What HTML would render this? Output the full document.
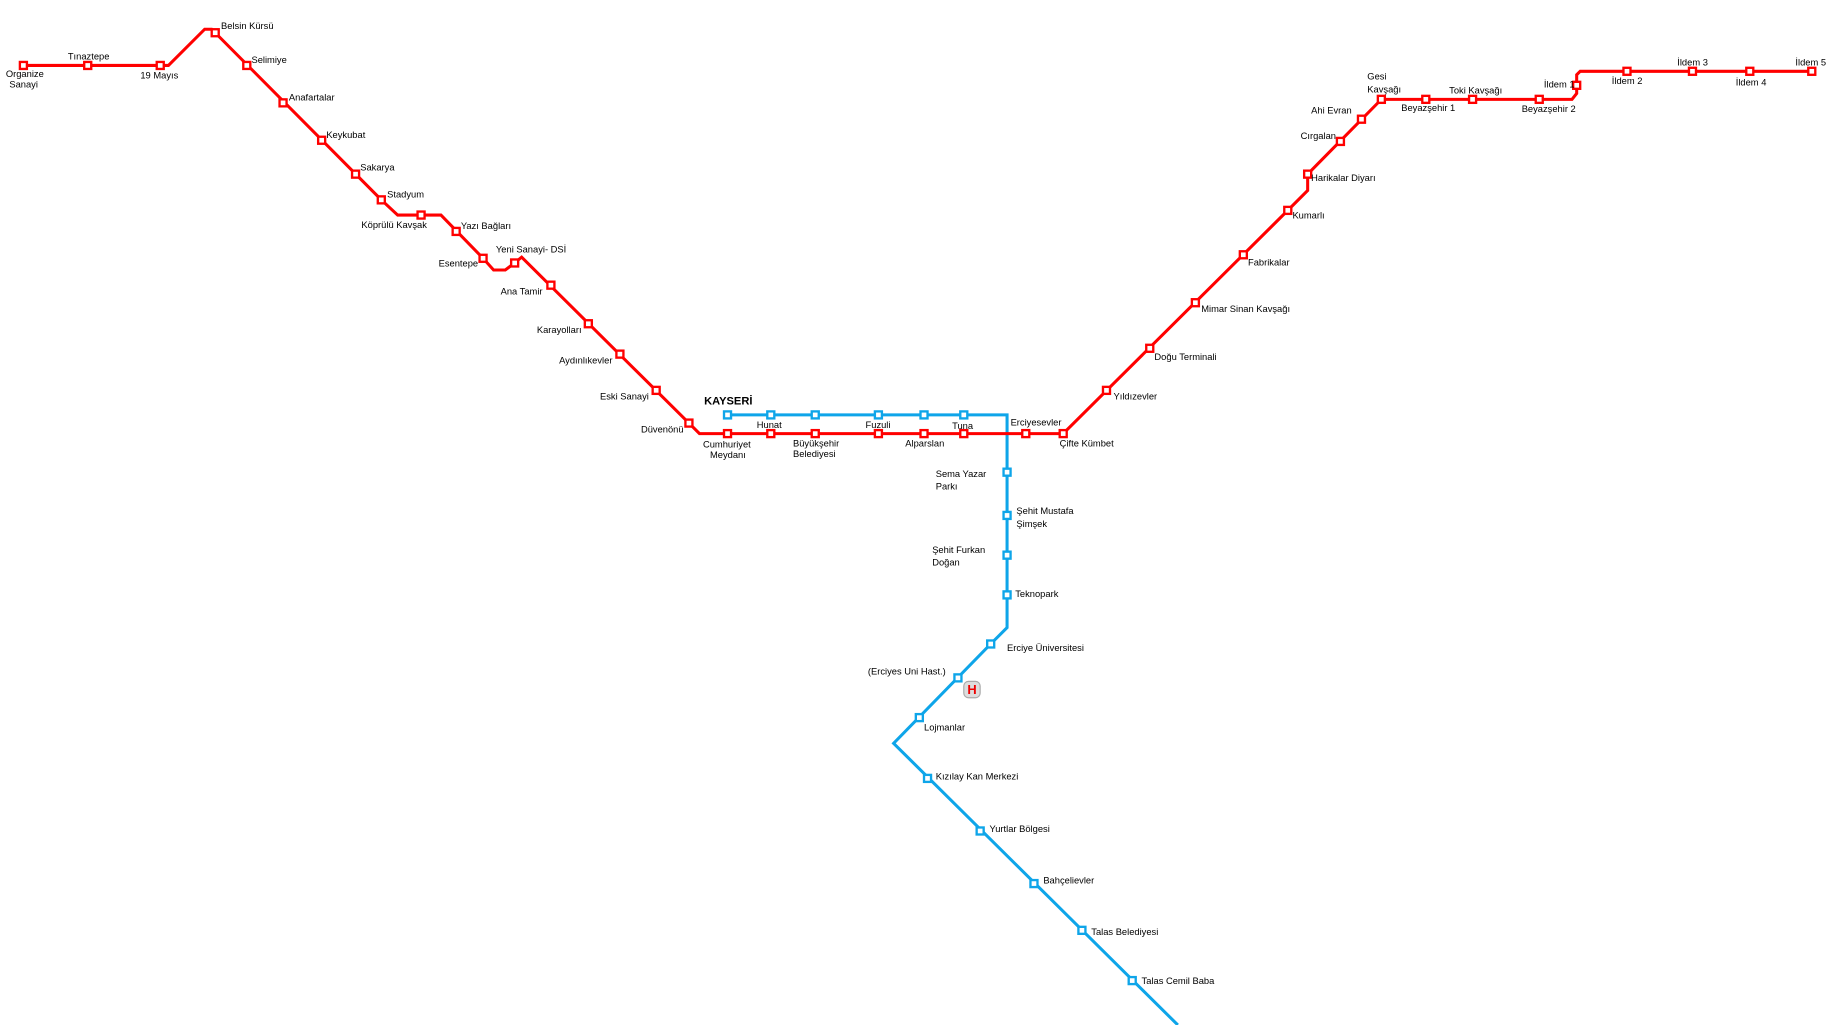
<!DOCTYPE html>
<html><head><meta charset="utf-8"><style>
html,body{margin:0;padding:0;background:#fff;width:1834px;height:1025px;overflow:hidden}
svg{display:block}
text{font-family:"Liberation Sans","DejaVu Sans",sans-serif;font-size:8px;fill:#000}
.r{fill:#fff;stroke:#f00;stroke-width:2}
.b{fill:#fff;stroke:#0ea5e9;stroke-width:2}
</style></head><body>
<svg width="1834" height="1025" viewBox="0 0 1568 877" preserveAspectRatio="none">
<polyline fill="none" stroke="#0ea5e9" stroke-width="2.6" points="622,355 861,355 861,537 847,551 764,636 1007,877"/>
<polyline fill="none" stroke="#f00" stroke-width="2.6" points="20,56 144,56 175,25 181,25 326,171 340,184 377,184 413,221 422,231 432,231 440,225 446,220 589,362 598,371 909,371 1101,180 1118,163 1118,149 1181,85 1344,85 1348,80 1348,64 1351,61 1549,61"/>
<g class="r">
<rect x="17" y="53" width="6" height="6"/><rect x="72" y="53" width="6" height="6"/><rect x="134" y="53" width="6" height="6"/>
<rect x="181" y="25" width="6" height="6"/><rect x="208" y="53" width="6" height="6"/><rect x="239" y="85" width="6" height="6"/>
<rect x="272" y="117" width="6" height="6"/><rect x="301" y="146" width="6" height="6"/><rect x="323" y="168" width="6" height="6"/>
<rect x="357" y="181" width="6" height="6"/><rect x="387" y="195" width="6" height="6"/><rect x="410" y="218" width="6" height="6"/>
<rect x="437" y="222" width="6" height="6"/><rect x="468" y="241" width="6" height="6"/><rect x="500" y="274" width="6" height="6"/>
<rect x="527" y="300" width="6" height="6"/><rect x="558" y="331" width="6" height="6"/><rect x="586" y="359" width="6" height="6"/>
<rect x="619" y="368" width="6" height="6"/><rect x="656" y="368" width="6" height="6"/><rect x="694" y="368" width="6" height="6"/>
<rect x="748" y="368" width="6" height="6"/><rect x="787" y="368" width="6" height="6"/><rect x="821" y="368" width="6" height="6"/>
<rect x="874" y="368" width="6" height="6"/><rect x="906" y="368" width="6" height="6"/><rect x="943" y="331" width="6" height="6"/>
<rect x="980" y="295" width="6" height="6"/><rect x="1019" y="256" width="6" height="6"/><rect x="1060" y="215" width="6" height="6"/>
<rect x="1098" y="177" width="6" height="6"/><rect x="1115" y="146" width="6" height="6"/><rect x="1143" y="118" width="6" height="6"/>
<rect x="1161" y="99" width="6" height="6"/><rect x="1178" y="82" width="6" height="6"/><rect x="1216" y="82" width="6" height="6"/>
<rect x="1256" y="82" width="6" height="6"/><rect x="1313" y="82" width="6" height="6"/><rect x="1345" y="70" width="6" height="6"/>
<rect x="1388" y="58" width="6" height="6"/><rect x="1444" y="58" width="6" height="6"/><rect x="1493" y="58" width="6" height="6"/>
<rect x="1546" y="58" width="6" height="6"/>
</g>
<g class="b">
<rect x="619" y="352" width="6" height="6"/><rect x="656" y="352" width="6" height="6"/><rect x="694" y="352" width="6" height="6"/>
<rect x="748" y="352" width="6" height="6"/><rect x="787" y="352" width="6" height="6"/><rect x="821" y="352" width="6" height="6"/>
<rect x="858" y="401" width="6" height="6"/><rect x="858" y="438" width="6" height="6"/><rect x="858" y="472" width="6" height="6"/>
<rect x="858" y="506" width="6" height="6"/><rect x="844" y="548" width="6" height="6"/><rect x="816" y="577" width="6" height="6"/>
<rect x="783" y="611" width="6" height="6"/><rect x="790" y="663" width="6" height="6"/><rect x="835" y="708" width="6" height="6"/>
<rect x="881" y="753" width="6" height="6"/><rect x="922" y="793" width="6" height="6"/><rect x="965" y="836" width="6" height="6"/>
</g>
<rect x="824" y="583" width="14" height="14" rx="4" fill="#ddd" stroke="#aaa"/>
<text x="831" y="594" text-anchor="middle" style="fill:#e00;font-weight:bold;font-size:11px">H</text>
<text x="602" y="346" style="font-weight:bold;font-size:9.5px">KAYSERİ</text>
<g>
<text x="5" y="66">Organize</text><text x="8" y="75">Sanayi</text>
<text x="58" y="51">Tınaztepe</text><text x="120" y="67">19 Mayıs</text>
<text x="189" y="25">Belsin Kürsü</text><text x="215" y="54">Selimiye</text><text x="247" y="86">Anafartalar</text>
<text x="279" y="118">Keykubat</text><text x="308" y="146">Sakarya</text><text x="331" y="169">Stadyum</text>
<text x="309" y="195">Köprülü Kavşak</text><text x="394" y="196">Yazı Bağları</text><text x="375" y="228">Esentepe</text>
<text x="424" y="216">Yeni Sanayi- DSİ</text><text x="428" y="252">Ana Tamir</text><text x="459" y="285">Karayolları</text>
<text x="478" y="311">Aydınlıkevler</text><text x="513" y="342">Eski Sanayi</text><text x="548" y="370">Düvenönü</text>
<text x="601" y="383">Cumhuriyet</text><text x="607" y="392">Meydanı</text>
<text x="647" y="366">Hunat</text>
<text x="678" y="382">Büyükşehir</text><text x="678" y="391">Belediyesi</text>
<text x="740" y="366">Fuzuli</text><text x="774" y="382">Alparslan</text><text x="814" y="367">Tuna</text>
<text x="864" y="364">Erciyesevler</text><text x="906" y="382">Çifte Kümbet</text>
<text x="952" y="342">Yıldızevler</text><text x="987" y="308">Doğu Terminali</text><text x="1027" y="267">Mimar Sinan Kavşağı</text>
<text x="1067" y="227">Fabrikalar</text><text x="1105" y="187">Kumarlı</text><text x="1121" y="155">Harikalar Diyarı</text>
<text x="1112" y="119">Cırgalan</text><text x="1121" y="97">Ahi Evran</text>
<text x="1169" y="68">Gesi</text><text x="1169" y="79">Kavşağı</text>
<text x="1198" y="95">Beyazşehir 1</text><text x="1239" y="80">Toki Kavşağı</text><text x="1301" y="96">Beyazşehir 2</text>
<text x="1320" y="75">İldem 1</text><text x="1378" y="72">İldem 2</text><text x="1434" y="56">İldem 3</text>
<text x="1484" y="73">İldem 4</text><text x="1535" y="56">İldem 5</text>
<text x="800" y="408">Sema Yazar</text><text x="800" y="419">Parkı</text>
<text x="869" y="440">Şehit Mustafa</text><text x="869" y="451">Şimşek</text>
<text x="797" y="473">Şehit Furkan</text><text x="797" y="484">Doğan</text>
<text x="868" y="511">Teknopark</text><text x="861" y="557">Erciye Üniversitesi</text>
<text x="742" y="577">(Erciyes Uni Hast.)</text><text x="790" y="625">Lojmanlar</text>
<text x="800" y="667">Kızılay Kan Merkezi</text><text x="846" y="712">Yurtlar Bölgesi</text>
<text x="892" y="756">Bahçelievler</text><text x="933" y="800">Talas Belediyesi</text><text x="976" y="842">Talas Cemil Baba</text>
</g>
</svg>
</body></html>
